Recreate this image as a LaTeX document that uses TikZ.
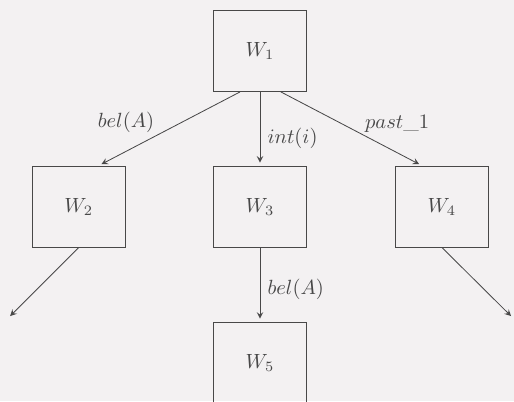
\documentclass[tikz,border=0pt]{standalone}
\usepackage{amsmath}
\usepackage{tikz}
\usepackage{xcolor}
\definecolor{scanpaper}{RGB}{243,241,242}
\definecolor{inkgray}{RGB}{72,72,72}

\begin{document}
\begin{tikzpicture}[
  world/.style={rectangle, draw=inkgray, minimum width=1.59cm, minimum height=1.385cm, text=inkgray, inner sep=0pt},
  rel/.style={->, >=stealth, draw=inkgray, shorten >=1.5pt},
  lbl/.style={inner sep=1pt, text=inkgray}]
% Page area
\useasboundingbox (-4.446,-5.985) rectangle (4.343,0.872);
\fill[scanpaper] (-4.446,-5.985) rectangle (4.343,0.872);

% Worlds
\node[world] (w1) at (0,0) {$W_1$};
\node[world] (w2) at (-3.10,-2.66) {$W_2$};
\node[world] (w3) at (0,-2.66) {$W_3$};
\node[world] (w4) at (3.11,-2.66) {$W_4$};
\node[world] (w5) at (0,-5.33) {$W_5$};

% Open ends
\coordinate (out2) at (-4.31,-4.57);
\coordinate (out4) at (4.33,-4.57);

% Arrows
\draw[rel] (w1.244) -- node[lbl, pos=0.59, above left] {$bel(A)$} (w2.64);
\draw[rel] (w1.south) -- node[lbl, pos=0.63, right, xshift=2.5pt] {$int(i)$} (w3.north);
\draw[rel] (w1.297) -- node[lbl, pos=0.58, above right] {$past\_1$} (w4.116);
\draw[rel] (w3.south) -- node[lbl, pos=0.56, right, xshift=2.5pt] {$bel(A)$} (w5.north);
\draw[rel] (w2.south) -- (out2);
\draw[rel] (w4.south) -- (out4);
\end{tikzpicture}
\end{document}
